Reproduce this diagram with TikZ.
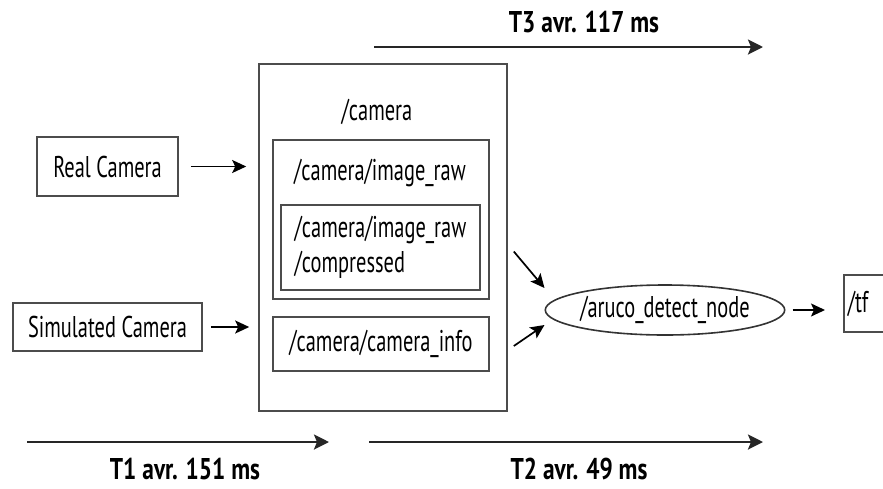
\documentclass[tikz,border=0pt]{standalone}
\usepackage{fontspec}
\setmainfont{PT Sans}[FakeStretch=0.68,BoldFeatures={FakeStretch=0.78}]
\usetikzlibrary{arrows.meta,shapes.geometric}

\begin{document}
\begin{tikzpicture}[x=1pt,y=-1pt,
    box/.style={draw=black!70,line width=1.6pt,inner sep=0pt},
    lbl/.style={font=\fontsize{30}{35}\selectfont},
    tlbl/.style={font=\bfseries\fontsize{30}{32}\selectfont,inner sep=0pt},
    arr/.style={line width=1.7pt,-{Stealth[length=14pt,width=13pt,inset=3pt]}},
    tarr/.style={line width=2.6pt,draw=black!85,-{Stealth[length=15pt,width=15pt,inset=3pt]}}]
    \useasboundingbox (0,0) rectangle (883,488);
    % sources
    \node[box,lbl,minimum width=141pt,minimum height=59pt] (real) at (107.5,166.5) {Real Camera};
    \node[box,lbl,minimum width=189pt,minimum height=48pt] (sim) at (107.5,327) {Simulated Camera};
    % camera topics
    \node[box,minimum width=248pt,minimum height=347pt] (camera) at (383,237.5) {};
    \node[lbl] (cameratxt) at (377,112) {/camera};
    \node[box,minimum width=216pt,minimum height=159pt] (raw) at (381,219.5) {};
    \node[lbl] (rawtxt) at (380,173) {/camera/image\_raw};
    \node[box,lbl,minimum width=199pt,minimum height=85pt,align=left] (comp) at (380.5,247.5) {/camera/image\_raw\\/compressed};
    \node[box,lbl,minimum width=216pt,minimum height=54pt] (info) at (381,344) {/camera/camera\_info};
    % detector and output
    \node[ellipse,draw=black!80,line width=1.6pt,inner sep=0pt,minimum width=196pt,minimum height=50pt,lbl] (aruco) at (665,310) {/aruco\_detect\_node};
    \node[box,lbl,anchor=west,inner xsep=4pt,text width=60pt,minimum height=57pt] (tf) at (843,303.5) {/tf};
    \draw[arr,shorten <=12pt,shorten >=12pt] (real) -- (real -| camera.west);
    \draw[arr,shorten <=8pt,shorten >=9pt] (sim) -- (sim -| camera.west);
    \draw[arr] ([xshift=6pt,yshift=-4pt]comp.east -| camera.east) -- ([yshift=22pt]aruco.west);
    \draw[arr] ([xshift=6pt,yshift=-2pt]info.east -| camera.east) -- ([yshift=-15pt]aruco.west);
    \draw[arr,shorten <=7pt,shorten >=18pt] (aruco.east) -- (aruco.east -| tf.west);
    % timings
    \coordinate (t1s) at (27,442);
    \coordinate (t1e) at (329,442);
    \coordinate (t2s) at (369,442);
    \coordinate (t2e) at (763,442);
    \coordinate (t3s) at (374,47);
    \coordinate (t3e) at (763,47);
    \draw[tarr] (t1s) -- (t1e);
    \draw[tarr] (t2s) -- (t2e);
    \draw[tarr] (t3s) -- (t3e);
    \node[tlbl] (t1) at (185,469) {T1 avr. 151 ms};
    \node[tlbl] (t2) at (579,469) {T2 avr. 49 ms};
    \node[tlbl] (t3) at (584,22) {T3 avr. 117 ms};
\end{tikzpicture}
\end{document}
